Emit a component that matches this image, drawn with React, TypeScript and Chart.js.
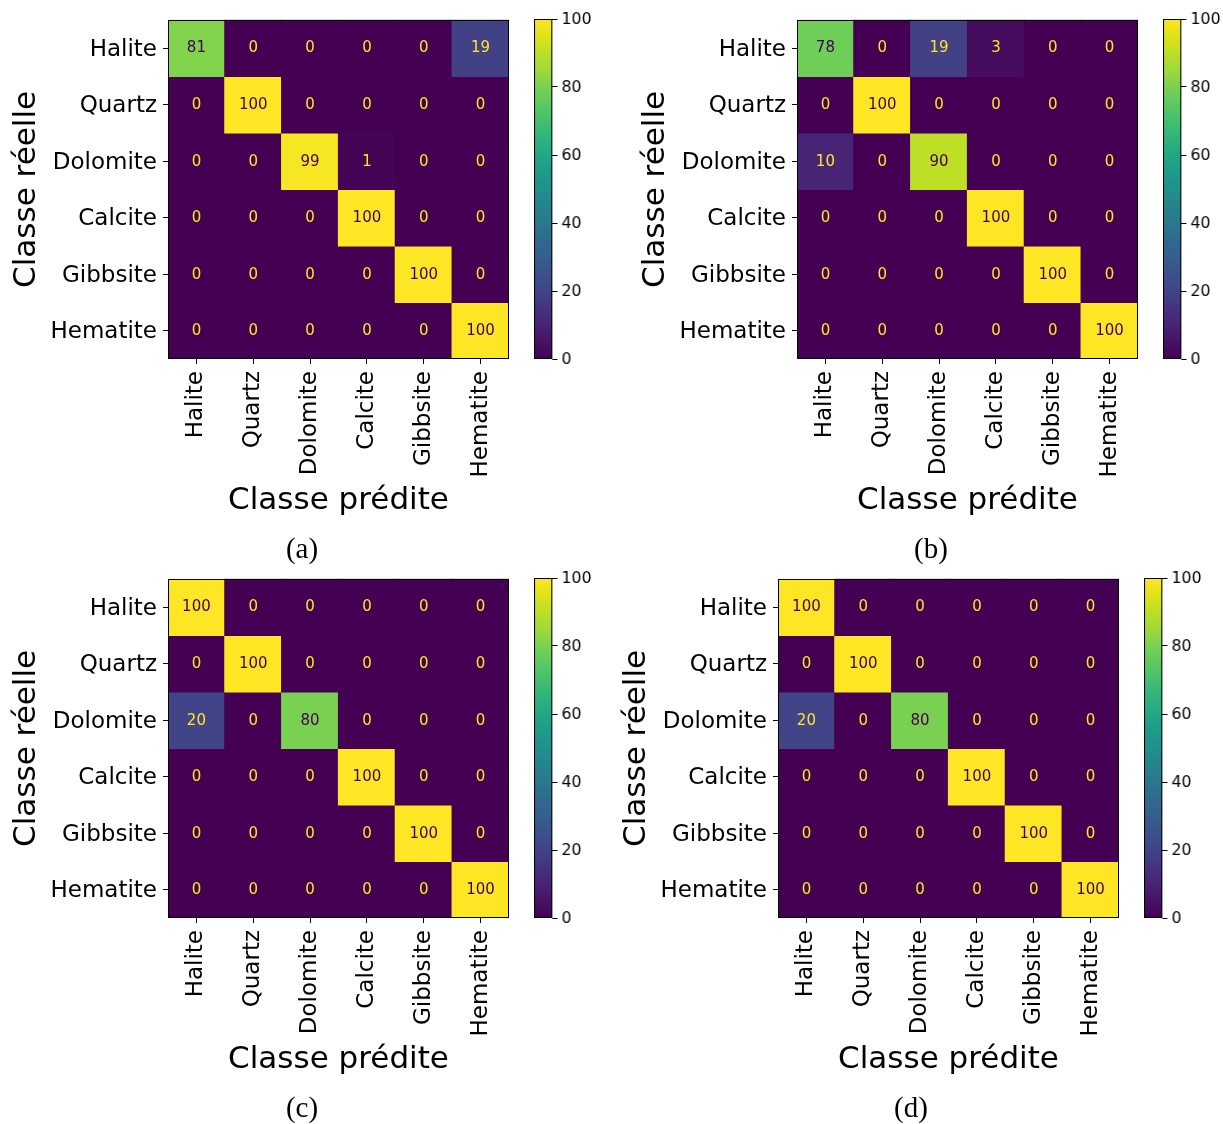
import React, { useEffect, useRef } from 'react';
import { Chart, registerables } from 'chart.js';

Chart.register(...registerables);
Chart.defaults.font.family = "'DejaVu Sans'";
Chart.defaults.color = '#000';

// ---------------- data ----------------
const classes = ['Halite', 'Quartz', 'Dolomite', 'Calcite', 'Gibbsite', 'Hematite'];

const matrixA = [
  [81, 0, 0, 0, 0, 19],
  [0, 100, 0, 0, 0, 0],
  [0, 0, 99, 1, 0, 0],
  [0, 0, 0, 100, 0, 0],
  [0, 0, 0, 0, 100, 0],
  [0, 0, 0, 0, 0, 100],
];
const matrixB = [
  [78, 0, 19, 3, 0, 0],
  [0, 100, 0, 0, 0, 0],
  [10, 0, 90, 0, 0, 0],
  [0, 0, 0, 100, 0, 0],
  [0, 0, 0, 0, 100, 0],
  [0, 0, 0, 0, 0, 100],
];
const matrixC = [
  [100, 0, 0, 0, 0, 0],
  [0, 100, 0, 0, 0, 0],
  [20, 0, 80, 0, 0, 0],
  [0, 0, 0, 100, 0, 0],
  [0, 0, 0, 0, 100, 0],
  [0, 0, 0, 0, 0, 100],
];
const matrixD = [
  [100, 0, 0, 0, 0, 0],
  [0, 100, 0, 0, 0, 0],
  [20, 0, 80, 0, 0, 0],
  [0, 0, 0, 100, 0, 0],
  [0, 0, 0, 0, 100, 0],
  [0, 0, 0, 0, 0, 100],
];
const colorbarRange = [0, 100];
const colorbarTicks = [0, 20, 40, 60, 80, 100];
const captions = ['(a)', '(b)', '(c)', '(d)'];
const xTitle = 'Classe prédite';
const yTitle = 'Classe réelle';

// ---------------- colormap ----------------
const VIRIDIS = [
  '#440154', '#471365', '#482475', '#46337f', '#414487', '#3b528b', '#355f8d',
  '#306a8e', '#2a788e', '#25848e', '#21918c', '#1e9b8a', '#22a884', '#2fb47c',
  '#44bf70', '#5ec962', '#7ad151', '#9fda3a', '#bddf26', '#dfe318', '#fde725',
];
function hexToRgb(h: string) {
  return [parseInt(h.slice(1, 3), 16), parseInt(h.slice(3, 5), 16), parseInt(h.slice(5, 7), 16)];
}
function viridis(t: number) {
  const tt = Math.max(0, Math.min(1, t));
  const p = tt * (VIRIDIS.length - 1);
  const i = Math.min(Math.floor(p), VIRIDIS.length - 2);
  const f = p - i;
  const a = hexToRgb(VIRIDIS[i]);
  const b = hexToRgb(VIRIDIS[i + 1]);
  const c = a.map((v, k) => Math.round(v + (b[k] - v) * f));
  return `rgb(${c[0]},${c[1]},${c[2]})`;
}

// ---------------- layout ----------------
const PLOT_W = 341;
const PLOT_H = 340;
const Y_AXIS_W = 168;
const TOP_PAD = 19;
const RIGHT_PAD = 20;
const X_AXIS_H = 175;
const CB_W = 18.5;
const CB_AXIS_W = 40;

const panels = [
  { matrix: matrixA, caption: captions[0], plotX: 168, plotY: 19, cbX: 534, capX: 302, capY: 558 },
  { matrix: matrixB, caption: captions[1], plotX: 797, plotY: 19, cbX: 1163, capX: 931, capY: 558 },
  { matrix: matrixC, caption: captions[2], plotX: 168, plotY: 578, cbX: 534, capX: 302, capY: 1117 },
  { matrix: matrixD, caption: captions[3], plotX: 778, plotY: 578, cbX: 1144, capX: 911, capY: 1117 },
];

const framePlugin = {
  id: 'frame',
  afterDatasetsDraw(chart: any) {
    const a = chart.chartArea;
    const ctx = chart.ctx;
    ctx.save();
    ctx.strokeStyle = '#000';
    ctx.lineWidth = 1;
    ctx.strokeRect(Math.round(a.left) + 0.5, Math.round(a.top) + 0.5, Math.round(a.right - a.left) - 1, Math.round(a.bottom - a.top) - 1);
    ctx.restore();
  },
};

const cellTextPlugin = {
  id: 'cellText',
  afterDatasetsDraw(chart: any, _args: any, opts: any) {
    const m = opts.matrix as number[][];
    if (!m) return;
    const ctx = chart.ctx;
    ctx.save();
    ctx.font = "15px 'DejaVu Sans'";
    ctx.textAlign = 'center';
    ctx.textBaseline = 'middle';
    chart.data.datasets.forEach((_ds: any, r: number) => {
      const meta = chart.getDatasetMeta(r);
      meta.data.forEach((el: any, c: number) => {
        const v = m[r][c];
        const { x, y, base } = el.getProps(['x', 'y', 'base'], true);
        ctx.fillStyle = v >= 50 ? VIRIDIS[0] : VIRIDIS[VIRIDIS.length - 1];
        ctx.fillText(String(v), x, (y + base) / 2 + 0.5);
      });
    });
    ctx.restore();
  },
};

function MatrixChart({ matrix, left, top }: { matrix: number[][]; left: number; top: number }) {
  const ref = useRef<HTMLCanvasElement>(null);
  const W = Y_AXIS_W + PLOT_W + RIGHT_PAD;
  const H = TOP_PAD + PLOT_H + X_AXIS_H;
  useEffect(() => {
    if (!ref.current) return;
    const datasets = classes.map((name, r) => ({
      label: name,
      data: classes.map(() => 1),
      backgroundColor: matrix[r].map((v) => viridis((v - colorbarRange[0]) / (colorbarRange[1] - colorbarRange[0]))),
      borderWidth: 0,
      inflateAmount: 0.6,
      barPercentage: 1,
      categoryPercentage: 1,
    }));
    const chart = new Chart(ref.current, {
      type: 'bar',
      data: { labels: classes, datasets },
      options: {
        responsive: false,
        animation: false,
        events: [],
        layout: { padding: { top: TOP_PAD, right: RIGHT_PAD, left: 0, bottom: 0 } },
        plugins: {
          legend: { display: false },
          tooltip: { enabled: false },
          cellText: { matrix },
        } as any,
        scales: {
          x: {
            stacked: true,
            grid: { offset: false, drawOnChartArea: false, drawTicks: true, tickLength: 5, color: '#000', lineWidth: 1 },
            border: { display: false },
            ticks: { autoSkip: false, maxRotation: 90, minRotation: 90, padding: 7, font: { size: 23 }, color: '#000' },
            title: { display: true, text: xTitle, font: { size: 31 }, color: '#000', padding: { top: 0, bottom: 14 } },
            afterFit: (s: any) => { s.height = X_AXIS_H; },
          },
          y: {
            stacked: true,
            reverse: true,
            min: 0,
            max: classes.length,
            afterBuildTicks: (s: any) => { s.ticks = classes.map((_, i) => ({ value: i + 0.5 })); },
            ticks: { autoSkip: false, callback: (_v: any, i: number) => classes[i], font: { size: 23 }, color: '#000', padding: 6, labelOffset: 1.5 },
            grid: { drawOnChartArea: false, drawTicks: true, tickLength: 5, color: '#000', lineWidth: 1 },
            border: { display: false },
            title: { display: true, text: yTitle, font: { size: 31 }, color: '#000', padding: { top: 8, bottom: 0 } },
            afterFit: (s: any) => { s.width = Y_AXIS_W; },
          },
        },
      } as any,
      plugins: [cellTextPlugin, framePlugin],
    });
    return () => chart.destroy();
  }, [matrix]);
  return (
    <canvas ref={ref} width={W} height={H}
      style={{ position: 'absolute', left, top, width: W, height: H }} />
  );
}

function ColorbarChart({ left, top }: { left: number; top: number }) {
  const ref = useRef<HTMLCanvasElement>(null);
  const W = CB_W + CB_AXIS_W;
  const H = TOP_PAD + PLOT_H + TOP_PAD;
  useEffect(() => {
    if (!ref.current) return;
    const chart = new Chart(ref.current, {
      type: 'bar',
      data: {
        labels: [''],
        datasets: [{
          data: [[colorbarRange[0], colorbarRange[1]]],
          backgroundColor: (ctx: any) => {
            const a = ctx.chart.chartArea;
            if (!a) return VIRIDIS[0];
            const g = ctx.chart.ctx.createLinearGradient(0, a.bottom, 0, a.top);
            VIRIDIS.forEach((c, i) => g.addColorStop(i / (VIRIDIS.length - 1), c));
            return g;
          },
          borderWidth: 0,
          barPercentage: 1,
          categoryPercentage: 1,
        }],
      },
      options: {
        responsive: false,
        animation: false,
        events: [],
        layout: { padding: { top: TOP_PAD, bottom: TOP_PAD, left: 0, right: 0 } },
        plugins: { legend: { display: false }, tooltip: { enabled: false } },
        scales: {
          x: { display: false },
          y: {
            position: 'right',
            min: colorbarRange[0],
            max: colorbarRange[1],
            afterBuildTicks: (s: any) => { s.ticks = colorbarTicks.map((v) => ({ value: v })); },
            ticks: { autoSkip: false, font: { size: 15.5 }, color: '#000', padding: 4, labelOffset: 0.5 },
            grid: { drawOnChartArea: false, drawTicks: true, tickLength: 5, color: '#000', lineWidth: 1 },
            border: { display: false },
            afterFit: (s: any) => { s.width = CB_AXIS_W; },
          },
        },
      } as any,
      plugins: [framePlugin],
    });
    return () => chart.destroy();
  }, []);
  return (
    <canvas ref={ref} width={W} height={H}
      style={{ position: 'absolute', left, top, width: W, height: H }} />
  );
}

export default function App() {
  useEffect(() => {
    document.body.style.margin = '0';
  }, []);
  return (
    <div style={{ position: 'relative', width: 1223, height: 1124, overflow: 'hidden', background: '#fff' }}>
      {panels.map((p, i) => (
        <React.Fragment key={i}>
          <MatrixChart matrix={p.matrix} left={p.plotX - Y_AXIS_W} top={p.plotY - TOP_PAD} />
          <ColorbarChart left={p.cbX} top={p.plotY - TOP_PAD} />
          <div style={{
            position: 'absolute', left: p.capX - 100, width: 200, top: p.capY - 24.3,
            textAlign: 'center', fontFamily: "'Liberation Serif'", fontSize: 29, lineHeight: '29px',
            color: '#000', whiteSpace: 'nowrap',
          }}>{p.caption}</div>
        </React.Fragment>
      ))}
    </div>
  );
}
